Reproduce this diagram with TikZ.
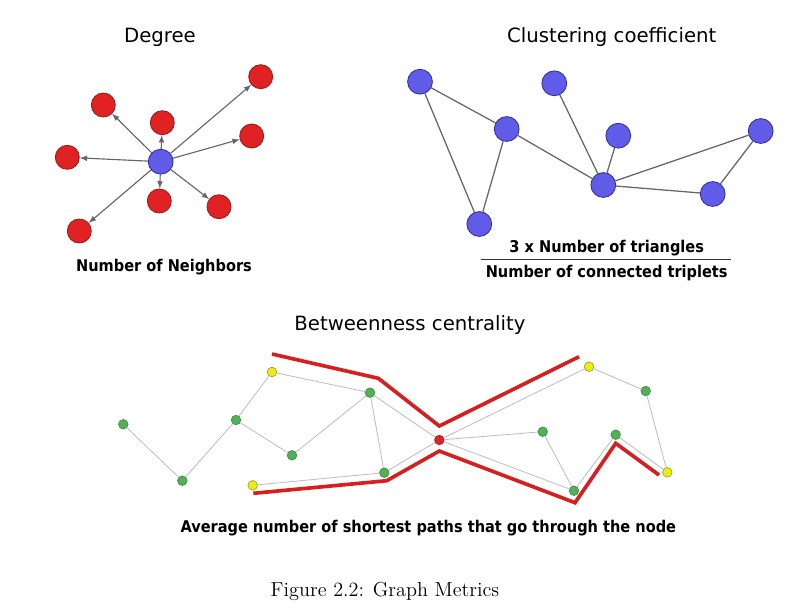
\documentclass[tikz,border=0pt]{standalone}
\usepackage{fontspec}
\newfontfamily\titlefont{DejaVu Sans}
\newfontfamily\labelfont{DejaVu Sans}[FakeStretch=0.9]
\usetikzlibrary{arrows,positioning}
\definecolor{nred}{RGB}{224, 34, 34}
\definecolor{dred}{RGB}{150, 30, 30}
\definecolor{nblue}{RGB}{96, 92, 232}
\definecolor{dblue}{RGB}{50, 48, 150}
\definecolor{ngreen}{RGB}{84, 176, 88}
\definecolor{dgreen}{RGB}{60, 130, 64}
\definecolor{nyellow}{RGB}{236, 236, 24}
\definecolor{dyellow}{RGB}{150, 150, 20}
\definecolor{pathred}{RGB}{212, 32, 32}
\tikzstyle{rednode} = [circle, draw=dred, fill=nred, line width=0.6pt,
  minimum size=6mm, inner sep=0pt]
\tikzstyle{bluenode} = [circle, draw=dblue, fill=nblue, line width=0.6pt,
  minimum size=6.2mm, inner sep=0pt]
\tikzstyle{greennode} = [circle, draw=dgreen, fill=ngreen, line width=0.4pt,
  minimum size=2.4mm, inner sep=0pt]
\tikzstyle{yellownode} = [circle, draw=dyellow, fill=nyellow, line width=0.4pt,
  minimum size=2.4mm, inner sep=0pt]
\tikzstyle{hubnode} = [circle, draw=dred, fill=nred, line width=0.4pt,
  minimum size=2.4mm, inner sep=0pt]
\tikzstyle{arrowline} = [draw, line width=0.8pt, color=black!60, -latex]
\tikzstyle{edge} = [draw, line width=0.9pt, color=black!60]
\tikzstyle{thinedge} = [draw, line width=0.6pt, color=black!25]
\tikzstyle{path} = [draw, line width=2.6pt, color=pathred, line join=miter]
\tikzstyle{title} = [font=\titlefont\fontsize{14}{16}\selectfont]
\tikzstyle{label} = [font=\labelfont\bfseries\fontsize{11.5}{13}\selectfont]

\begin{document}
\begin{tikzpicture}[x=0.025cm, y=-0.025cm]

  \useasboundingbox[fill=white] (0,0) rectangle (800,614);

  %%%%%%%%%%%%%%%%%%%%%%%%%%%%%%%%%%%%%%%%%%%%%%%%%%%%%%%%%%%%%%
  %                    DEGREE                                  %
  %%%%%%%%%%%%%%%%%%%%%%%%%%%%%%%%%%%%%%%%%%%%%%%%%%%%%%%%%%%%%%

  \node [title] (degree-title) at (160,37) {Degree};

  \node [bluenode] (deg-c) at (160.7,161.7) {};
  \node [rednode] (deg-1) at (103.3,105) {};
  \node [rednode] (deg-2) at (162.3,122.7) {};
  \node [rednode] (deg-3) at (260.7,76.7) {};
  \node [rednode] (deg-4) at (251.7,136) {};
  \node [rednode] (deg-5) at (67.3,157.3) {};
  \node [rednode] (deg-6) at (159.3,201) {};
  \node [rednode] (deg-7) at (219,206.7) {};
  \node [rednode] (deg-8) at (79.3,231) {};

  \foreach \n in {1,...,8}
    \draw[arrowline] (deg-c) -- (deg-\n);

  \node [label] (degree-label) at (164,267) {Number of Neighbors};

  %%%%%%%%%%%%%%%%%%%%%%%%%%%%%%%%%%%%%%%%%%%%%%%%%%%%%%%%%%%%%%
  %                    CLUSTERING COEFFICIENT                  %
  %%%%%%%%%%%%%%%%%%%%%%%%%%%%%%%%%%%%%%%%%%%%%%%%%%%%%%%%%%%%%%

  \node [title] (clust-title) at (611.7,36.7) {Clustering coefficient};

  \node [bluenode] (cl-a) at (420,81.7) {};
  \node [bluenode] (cl-b) at (506.7,129) {};
  \node [bluenode] (cl-c) at (479.3,224) {};
  \node [bluenode] (cl-d) at (554.3,83.3) {};
  \node [bluenode] (cl-e) at (618.3,135.7) {};
  \node [bluenode] (cl-f) at (603.3,185) {};
  \node [bluenode] (cl-g) at (760.7,131) {};
  \node [bluenode] (cl-h) at (712.7,194) {};

  \foreach \a/\b in {a/b, a/c, b/c, b/f, d/f, e/f, f/g, f/h, g/h}
    \draw[edge] (cl-\a) -- (cl-\b);

  \node [label] (clust-num) at (606.7,248.3) {3 x Number of triangles};
  \node [label] (clust-den) at (606.7,273.3) {Number of connected triplets};
  \coordinate (frac-l) at (480.7,259.3);
  \coordinate (frac-r) at (730.7,259.3);
  \draw[line width=0.8pt, black!80] (frac-l) -- (frac-r);

  %%%%%%%%%%%%%%%%%%%%%%%%%%%%%%%%%%%%%%%%%%%%%%%%%%%%%%%%%%%%%%
  %                    BETWEENNESS CENTRALITY                  %
  %%%%%%%%%%%%%%%%%%%%%%%%%%%%%%%%%%%%%%%%%%%%%%%%%%%%%%%%%%%%%%

  \node [title] (betw-title) at (410,325) {Betweenness centrality};

  % highlighted shortest paths
  \draw[path] (272,354) -- (378.3,378.3) -- (439.3,426) -- (579,356.7);
  \draw[path] (253.3,493.3) -- (386.7,480.7) -- (439.3,451)
    -- (575,502.7) -- (615.7,443.3) -- (659,475);

  \node [greennode] (bt-g1) at (123.3,424.3) {};
  \node [greennode] (bt-g2) at (182.3,480.7) {};
  \node [greennode] (bt-g3) at (236,420) {};
  \node [yellownode] (bt-y1) at (272,372) {};
  \node [greennode] (bt-g4) at (292,455.3) {};
  \node [greennode] (bt-g5) at (370,392.7) {};
  \node [greennode] (bt-g6) at (384.3,472.7) {};
  \node [yellownode] (bt-y2) at (252.7,485.3) {};
  \node [hubnode] (bt-hub) at (439.3,440) {};
  \node [yellownode] (bt-y3) at (589,366.7) {};
  \node [greennode] (bt-g7) at (645.7,391) {};
  \node [greennode] (bt-g8) at (542.7,431.7) {};
  \node [greennode] (bt-g9) at (615.7,434.7) {};
  \node [greennode] (bt-g10) at (574,490.7) {};
  \node [yellownode] (bt-y4) at (667.3,472.3) {};

  \foreach \a/\b in {g1/g2, g2/g3, g3/y1, g3/g4, g4/g5, y1/g5, g5/g6, g5/hub,
    y2/g6, g6/hub, hub/y3, hub/g8, hub/g10, g8/g10, g10/g9, g9/y4, y3/g7, g7/y4}
    \draw[thinedge] (bt-\a) -- (bt-\b);

  \node [label] (betw-label) at (428.3,528)
    {Average number of shortest paths that go through the node};

  % caption
  \node [font=\fontsize{14.4}{17}\selectfont] (caption) at (385,591.7)
    {Figure 2.2: Graph Metrics};

\end{tikzpicture}
\end{document}
